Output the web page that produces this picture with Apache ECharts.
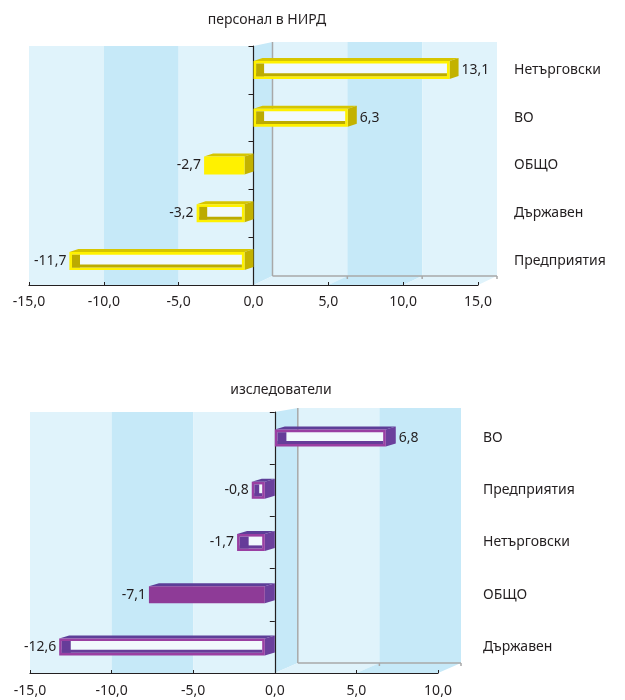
<!DOCTYPE html>
<html>
<head>
<meta charset="utf-8">
<script src="https://cdn.jsdelivr.net/npm/echarts@6/dist/echarts.min.js"></script>
<style>
  html, body { margin: 0; padding: 0; background: #ffffff; }
  #chart { width: 625px; height: 700px; }
</style>
</head>
<body>
<div id="chart"></div>
<script>
// Change in R&D staff and researchers by sector, %
const staffTitle = 'персонал в НИРД';
const staffCategories = ['Нетърговски', 'ВО', 'ОБЩО', 'Държавен', 'Предприятия'];
const staffValues = [13.1, 6.3, -2.7, -3.2, -11.7];
const staffTicks = [-15, -10, -5, 0, 5, 10, 15];

const researchTitle = 'изследователи';
const researchCategories = ['ВО', 'Предприятия', 'Нетърговски', 'ОБЩО', 'Държавен'];
const researchValues = [6.8, -0.8, -1.7, -7.1, -12.6];
const researchTicks = [-15, -10, -5, 0, 5, 10];

// the total row is drawn as a solid block, the sectors as hollow frames
const totalCategory = 'ОБЩО';

const FONT = '"Noto Sans", "DejaVu Sans", sans-serif';
const TEXT = '#231f20';
const WALL_LIGHT = '#e0f3fb';
const WALL_DARK = '#c6e9f8';
const WALL_EDGE = '#a8a8a8';

const fmt = v => v.toFixed(1).replace('.', ',');

const panels = [
  {
    title: staffTitle, titleX: 267, titleY: 20,
    categories: staffCategories, values: staffValues, ticks: staffTicks,
    grid: { left: 29, top: 46, width: 449, height: 239 },
    nameMargin: 36, labelMargin: 10,
    dx: 9, dy: 3, barH: 18, frame: 2.6,
    wallDX: 19, wallUp: 4, floorUp: 9,
    face: '#fff100', top: '#d6c500', side: '#c3b200', inner: '#bcab00', hollow: '#f1f9fd'
  },
  {
    title: researchTitle, titleX: 281, titleY: 390,
    categories: researchCategories, values: researchValues, ticks: researchTicks,
    grid: { left: 30, top: 412, width: 408, height: 261 },
    nameMargin: 45, labelMargin: 11,
    dx: 10, dy: 3, barH: 17, frame: 2.6,
    wallDX: 23, wallUp: 4, floorUp: 10,
    face: '#8e3b97', top: '#5d3e98', side: '#6b3f9c', inner: '#663c99', hollow: '#f1f9fd',
    frameColor: '#9a3fa2'
  }
];

function bandData(ticks) {
  const out = [];
  for (let i = 0; i < ticks.length - 1; i++) {
    const a = ticks[i], b = ticks[i + 1];
    const step = b - a;
    const k = Math.floor(Math.min(Math.abs(a), Math.abs(b)) / step);
    out.push([a, b, 0, k % 2]);
  }
  return out;
}

function wallRenderer(p) {
  return function (params, api) {
    const cs = params.coordSys;
    const top = cs.y, bottom = cs.y + cs.height;
    const a = api.value(0), b = api.value(1), dark = api.value(3);
    const fill = dark ? WALL_DARK : WALL_LIGHT;
    const xa = api.coord([a, 0])[0], xb = api.coord([b, 0])[0];
    if (b <= 0) {
      return { type: 'rect', shape: { x: xa, y: top, width: xb - xa, height: bottom - top }, style: { fill: fill } };
    }
    const D = p.wallDX, bt = top - p.wallUp, bb = bottom - p.floorUp;
    const kids = [
      { type: 'rect', shape: { x: xa + D, y: bt, width: xb - xa, height: bb - bt }, style: { fill: fill } }
    ];
    if (a === 0) {
      kids.push({ type: 'polygon', shape: { points: [[xa, top], [xa + D, bt], [xa + D, bb], [xa, bottom]] }, style: { fill: WALL_DARK } });
    }
    kids.push({ type: 'polygon', shape: { points: [[xa, bottom], [xb, bottom], [xb + D, bb], [xa + D, bb]] }, style: { fill: fill } });
    return { type: 'group', children: kids };
  };
}

function edgeRenderer(p) {
  return function (params, api) {
    const cs = params.coordSys;
    const top = cs.y, bottom = cs.y + cs.height;
    const D = p.wallDX, bt = top - p.wallUp, bb = bottom - p.floorUp;
    const x0 = api.coord([0, 0])[0] + D;
    const xm = api.coord([api.value(0), 0])[0] + D;
    const st = { stroke: WALL_EDGE, lineWidth: 1.5 };
    const kids = [
      { type: 'line', shape: { x1: x0, y1: bt, x2: x0, y2: bb }, style: st },
      { type: 'line', shape: { x1: x0, y1: bb, x2: xm, y2: bb }, style: st }
    ];
    p.ticks.filter(t => t > 0).forEach(t => {
      const xt = api.coord([t, 0])[0] + D;
      kids.push({ type: 'line', shape: { x1: xt, y1: bb, x2: xt, y2: bb + 3 }, style: st });
    });
    return { type: 'group', children: kids };
  };
}

function barRenderer(p) {
  return function (params, api) {
    const v = api.value(0), cat = api.value(1), solid = api.value(2);
    const c0 = api.coord([0, cat]), cv = api.coord([v, cat]);
    const cy = c0[1], h = p.barH, dx = p.dx, dy = p.dy;
    let xl, xr;
    if (v >= 0) { xl = c0[0]; xr = cv[0]; }
    else { xl = cv[0] - dx; xr = c0[0] - dx; }
    const y1 = cy - h / 2, y2 = cy + h / 2, w = xr - xl;
    const kids = [
      { type: 'polygon', shape: { points: [[xl, y1], [xr, y1], [xr + dx, y1 - dy], [xl + dx, y1 - dy]] }, style: { fill: p.top } },
      { type: 'polygon', shape: { points: [[xr, y1], [xr + dx, y1 - dy], [xr + dx, y2 - dy], [xr, y2]] }, style: { fill: p.side } }
    ];
    if (solid) {
      kids.push({ type: 'rect', shape: { x: xl, y: y1, width: w, height: h }, style: { fill: p.face } });
    } else {
      const t = p.frame;
      const iw = Math.max(w - 2 * t, 0), ih = h - 2 * t;
      kids.push({ type: 'rect', shape: { x: xl, y: y1, width: w, height: h }, style: { fill: p.frameColor || p.face } });
      kids.push({ type: 'rect', shape: { x: xl + t, y: y1 + t, width: iw, height: ih }, style: { fill: p.hollow } });
      const lw = Math.max(Math.min(dx - 1, iw - 3), 0);
      kids.push({ type: 'rect', shape: { x: xl + t, y: y1 + t, width: lw, height: ih }, style: { fill: p.inner } });
      kids.push({ type: 'rect', shape: { x: xl + t, y: y2 - t - dy, width: iw, height: dy }, style: { fill: p.inner } });
    }
    const lx = v >= 0 ? xr + dx + 3 : xl - 3;
    kids.push({
      type: 'text',
      style: { text: fmt(v), x: lx, y: cy, align: v >= 0 ? 'left' : 'right', verticalAlign: 'middle', fill: TEXT, font: '14px ' + FONT }
    });
    return { type: 'group', children: kids };
  };
}

const option = {
  animation: false,
  backgroundColor: '#ffffff',
  graphic: panels.map(p => ({
    type: 'text', x: p.titleX, y: p.titleY,
    style: { text: p.title, align: 'center', verticalAlign: 'middle', fill: TEXT, font: '14px ' + FONT }
  })),
  grid: panels.map(p => Object.assign({ containLabel: false }, p.grid)),
  xAxis: panels.map((p, i) => ({
    type: 'value', gridIndex: i, position: 'bottom',
    min: p.ticks[0], max: p.ticks[p.ticks.length - 1], interval: 5,
    z: 2,
    axisLine: { show: true, onZero: false, lineStyle: { color: '#231f20', width: 1.2 } },
    axisTick: { show: true, inside: true, length: 3, lineStyle: { color: '#231f20' } },
    axisLabel: { formatter: fmt, margin: p.labelMargin, color: TEXT, fontSize: 14, fontFamily: FONT },
    splitLine: { show: false }
  })),
  yAxis: [].concat(...panels.map((p, i) => ([
    {
      type: 'category', gridIndex: i, data: p.categories, inverse: true, position: 'left',
      z: 2,
      axisLine: { show: true, onZero: true, lineStyle: { color: '#231f20', width: 1.2 } },
      axisTick: { show: true, length: 5, lineStyle: { color: '#231f20' } },
      axisLabel: { show: false },
      splitLine: { show: false }
    },
    {
      type: 'category', gridIndex: i, data: p.categories, inverse: true, position: 'right',
      axisLine: { show: false, onZero: false },
      axisTick: { show: false },
      axisLabel: { show: true, margin: p.nameMargin, color: TEXT, fontSize: 14, fontFamily: FONT, align: 'left' },
      splitLine: { show: false }
    }
  ]))),
  series: [].concat(...panels.map((p, i) => ([
    {
      type: 'custom', name: 'wall' + i, xAxisIndex: i, yAxisIndex: i * 2, z: 0,
      renderItem: wallRenderer(p), encode: { x: [0, 1], y: 2 },
      data: bandData(p.ticks), silent: true
    },
    {
      type: 'custom', name: 'edge' + i, xAxisIndex: i, yAxisIndex: i * 2, z: 1,
      renderItem: edgeRenderer(p), encode: { x: 0, y: 1 },
      data: [[p.ticks[p.ticks.length - 1], 0]], silent: true
    },
    {
      type: 'custom', name: p.title, xAxisIndex: i, yAxisIndex: i * 2, z: 3,
      renderItem: barRenderer(p), encode: { x: 0, y: 1 },
      data: p.values.map((v, k) => [v, k, p.categories[k] === totalCategory ? 1 : 0])
    }
  ])))
};

const chart = echarts.init(document.getElementById('chart'), null, { renderer: 'canvas' });
chart.setOption(option);
</script>
</body>
</html>
